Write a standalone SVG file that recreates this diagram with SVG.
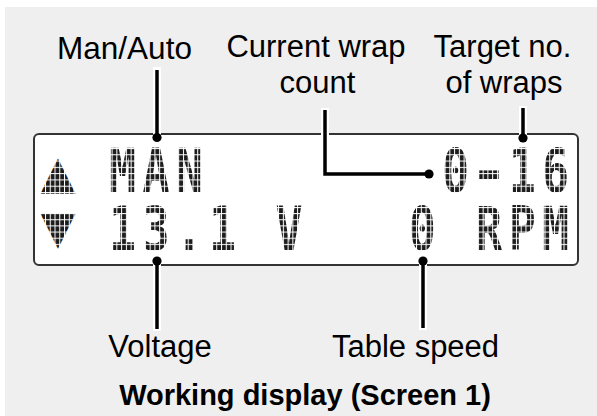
<svg xmlns="http://www.w3.org/2000/svg" width="597" height="416" viewBox="0 0 597 416">
  <style>
    .lbl { font-family: "Liberation Sans", Arial, sans-serif; font-size: 31px; fill: #000; text-anchor: middle; }
    .title { font-family: "Liberation Sans", Arial, sans-serif; font-size: 29px; font-weight: bold; fill: #000; text-anchor: middle; }
    .lcd { font-family: "DejaVu Sans Mono", "Liberation Mono", monospace; font-size: 60px; font-weight: bold; fill: #1c1c1c; text-anchor: middle; }
    .sym { font-family: "DejaVu Sans", sans-serif; font-size: 46px; fill: #1c1c1c; text-anchor: middle; }
    .halo { fill: none; stroke: #fff; stroke-width: 8; }
    .wire { fill: none; stroke: #000; stroke-width: 3.5; }
    .dot { fill: #000; }
  </style>
  <defs>
    <pattern id="grid1" patternUnits="userSpaceOnUse" x="45" y="148" width="4.757" height="6.286">
      <rect x="0" y="0" width="4.757" height="1" fill="#fff"/>
      <rect x="0" y="0" width="1" height="6.286" fill="#fff"/>
    </pattern>
    <pattern id="grid2" patternUnits="userSpaceOnUse" x="45" y="207" width="4.757" height="6.143">
      <rect x="0" y="0" width="4.757" height="1" fill="#fff"/>
      <rect x="0" y="0" width="1" height="6.143" fill="#fff"/>
    </pattern>
  </defs>

  <rect x="0" y="0" width="597" height="416" fill="#fff"/>
  <rect x="5" y="7" width="592" height="409" fill="#efefef"/>

  <g id="lcd">
    <rect x="34" y="134" width="544" height="131" rx="5" ry="5" fill="#fff" stroke="#333" stroke-width="2"/>
    <text class="sym" x="58" y="188">▲</text>
    <text class="sym" x="58" y="243">▼</text>
    <g transform="scale(0.75,1)">
      <text class="lcd" x="163.5 207.9 252.3" y="192">MAN</text>
      <text class="lcd" x="607.5" y="192">0</text>
      <text class="lcd" x="651.9" y="192" transform="translate(651.9,0) scale(1.4,1) translate(-651.9,0)">-</text>
      <text class="lcd" x="696.3 740.7" y="192">16</text>
      <text class="lcd" x="163.5 207.9 252.3 296.7" y="250">13.1</text>
      <text class="lcd" x="385.5" y="250">V</text>
      <text class="lcd" x="563.1" y="250">0</text>
      <text class="lcd" x="651.9 696.3 740.7" y="250">RPM</text>
    </g>
    <rect x="38" y="146" width="536" height="48" fill="url(#grid1)"/>
    <rect x="38" y="205" width="536" height="47" fill="url(#grid2)"/>
  </g>

  <g id="connectors">
    <path class="halo" d="M157 67V137.5"/>
    <path class="halo" d="M325 108V174H429"/>
    <path class="halo" d="M523 106V138"/>
    <path class="halo" d="M157 261V331"/>
    <path class="halo" d="M423 261V330"/>
    <path class="wire" d="M157 70V137.5"/>
    <path class="wire" d="M325 110V174H429"/>
    <path class="wire" d="M523 108V138"/>
    <path class="wire" d="M157 261V329"/>
    <path class="wire" d="M423 261V328"/>
    <circle class="dot" cx="157" cy="137.5" r="4.6"/>
    <circle class="dot" cx="429" cy="174" r="4.6"/>
    <circle class="dot" cx="523" cy="138" r="4.6"/>
    <circle class="dot" cx="157" cy="261" r="4.6"/>
    <circle class="dot" cx="423" cy="261" r="4.6"/>
  </g>

  <g id="label-man-auto">
    <text class="lbl" x="124.5" y="59" style="font-size:31.5px">Man/Auto</text>
  </g>
  <g id="label-current-wrap">
    <text class="lbl" x="316" y="57">Current wrap</text>
    <text class="lbl" x="317.5" y="93">count</text>
  </g>
  <g id="label-target">
    <text class="lbl" x="502.5" y="57">Target no.</text>
    <text class="lbl" x="504" y="93">of wraps</text>
  </g>
  <g id="label-voltage">
    <text class="lbl" x="160" y="357">Voltage</text>
  </g>
  <g id="label-table-speed">
    <text class="lbl" x="415.5" y="357">Table speed</text>
  </g>
  <g id="title">
    <text class="title" x="305" y="405">Working display (Screen 1)</text>
  </g>
</svg>
